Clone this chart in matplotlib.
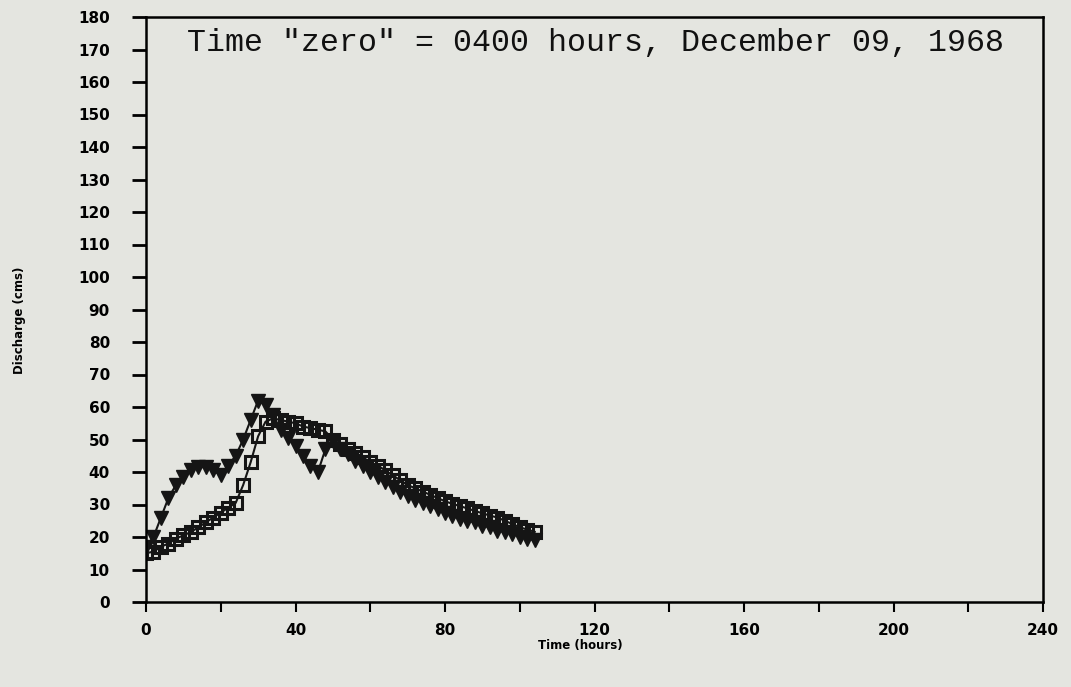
import matplotlib.pyplot as plt
from matplotlib.ticker import MultipleLocator

hours = [0, 2, 4, 6, 8, 10, 12, 14, 16, 18, 20, 22, 24, 26, 28, 30, 32, 34, 36, 38,
         40, 42, 44, 46, 48, 50, 52, 54, 56, 58, 60, 62, 64, 66, 68, 70, 72, 74, 76, 78,
         80, 82, 84, 86, 88, 90, 92, 94, 96, 98, 100, 102, 104]

# triangles
q_tri = [17, 20, 26, 32, 36, 38.5, 40.5, 41.5, 41.5, 40.5, 39, 42, 45, 50, 56, 62, 60.5, 57.5, 53, 50.5,
         48, 45, 42, 40, 47, 49.5, 47, 45.5, 43.5, 42, 40, 38.5, 37, 35.5, 34, 32.5, 31.5, 30.5, 29.5, 28.5,
         27.5, 26.5, 25.5, 25, 24.5, 23.5, 23, 22, 21.5, 21, 20, 19.5, 19]

# squares
q_sq = [15, 15.5, 17, 18, 19.5, 20.5, 21.5, 23, 24.5, 26, 27.5, 29, 30.5, 36, 43, 51, 55.5, 56.5, 56, 55.5,
        55, 54, 53.5, 53, 52.5, 50, 48.5, 47, 46, 44.5, 43, 42, 40.5, 39, 37.5, 36, 35, 34, 33, 32,
        31, 30.2, 29.5, 28.8, 28, 27.3, 26.6, 26, 25, 24, 23, 22.3, 21.6]

bg = "#e4e5e0"
tick_font = {"family": "DejaVu Sans", "weight": "bold", "size": 11}

fig = plt.figure(figsize=(10.71, 6.87), dpi=100, facecolor=bg)
ax = fig.add_axes([146 / 1071, 85 / 687, 897 / 1071, 585 / 687], facecolor=bg)

ax.plot(hours, q_tri, color="#151515", linewidth=1.5, marker="v", markersize=10,
        markerfacecolor="#151515", markeredgecolor="#151515")
ax.plot(hours, q_sq, color="#151515", linewidth=1.5, marker="s", markersize=8.5,
        markerfacecolor="none", markeredgecolor="#151515", markeredgewidth=2.2)

ax.set_xlim(0, 240)
ax.set_ylim(0, 180)
ax.xaxis.set_major_locator(MultipleLocator(40))
ax.xaxis.set_minor_locator(MultipleLocator(20))
ax.yaxis.set_major_locator(MultipleLocator(10))

ax.tick_params(axis="y", which="major", direction="out", length=10, width=2, pad=16)
ax.tick_params(axis="x", which="major", direction="out", length=7, width=1.5, pad=8)
ax.tick_params(axis="x", which="minor", direction="out", length=7, width=1.5)
for lab in ax.get_xticklabels() + ax.get_yticklabels():
    lab.set_fontproperties(tick_font)

for s in ax.spines.values():
    s.set_linewidth(1.8)

ax.text((187 - 146) / 897, (602 - 43) / 585,
        'Time "zero" = 0400 hours, December 09, 1968',
        transform=ax.transAxes, family="Liberation Mono", fontsize=22.8,
        va="center", ha="left", color="#111111")

fig.text(20 / 1071, 1 - 320 / 687, "Discharge (cms)", rotation=90, ha="center", va="center",
         fontsize=8.5, fontweight="bold")
fig.text(580 / 1071, 1 - 645 / 687, "Time (hours)", ha="center", va="center",
         fontsize=8.5, fontweight="bold")

fig.savefig("out.png", dpi=100, facecolor=bg)
